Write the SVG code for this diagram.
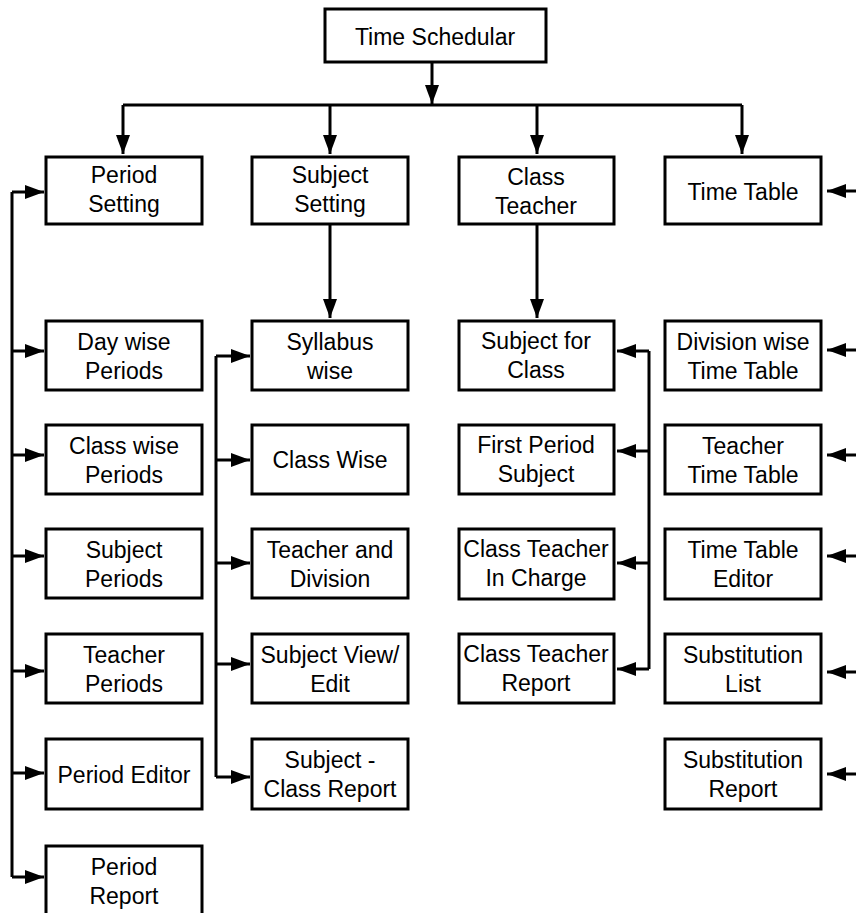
<svg xmlns="http://www.w3.org/2000/svg" width="856" height="913" viewBox="0 0 856 913">
<style>
.box{fill:#fff;stroke:#000;stroke-width:3}
.t{font-family:"Liberation Sans",Arial,sans-serif;font-size:23px;text-anchor:middle;fill:#000}
.c{fill:none;stroke:#000;stroke-width:3}
</style>
<defs>
<marker id="ah" markerUnits="userSpaceOnUse" markerWidth="19" markerHeight="14" refX="19" refY="7" orient="auto">
<path d="M0,0 L19,7 L0,14 z" fill="#000"/>
</marker>
</defs>
<rect width="856" height="913" fill="#fff"/>
<g id="connectors">
<path class="c" d="M432,62 V104" marker-end="url(#ah)"/>
<path class="c" d="M123,105 H742"/>
<path class="c" d="M123,105 V154" marker-end="url(#ah)"/>
<path class="c" d="M330,105 V154" marker-end="url(#ah)"/>
<path class="c" d="M537,105 V154" marker-end="url(#ah)"/>
<path class="c" d="M742,105 V154" marker-end="url(#ah)"/>
<path class="c" d="M330,224 V318" marker-end="url(#ah)"/>
<path class="c" d="M537,224 V318" marker-end="url(#ah)"/>
<path class="c" d="M12,877 V192"/>
<path class="c" d="M12,192 H44" marker-end="url(#ah)"/>
<path class="c" d="M12,351 H44" marker-end="url(#ah)"/>
<path class="c" d="M12,455 H44" marker-end="url(#ah)"/>
<path class="c" d="M12,556 H44" marker-end="url(#ah)"/>
<path class="c" d="M12,671 H44" marker-end="url(#ah)"/>
<path class="c" d="M12,773 H44" marker-end="url(#ah)"/>
<path class="c" d="M12,877 H44" marker-end="url(#ah)"/>
<path class="c" d="M216,777 V356"/>
<path class="c" d="M216,356 H250" marker-end="url(#ah)"/>
<path class="c" d="M216,460 H250" marker-end="url(#ah)"/>
<path class="c" d="M216,563 H250" marker-end="url(#ah)"/>
<path class="c" d="M216,664 H250" marker-end="url(#ah)"/>
<path class="c" d="M216,777 H250" marker-end="url(#ah)"/>
<path class="c" d="M649,351 V669"/>
<path class="c" d="M649,351 H617" marker-end="url(#ah)"/>
<path class="c" d="M649,451 H617" marker-end="url(#ah)"/>
<path class="c" d="M649,563 H617" marker-end="url(#ah)"/>
<path class="c" d="M649,669 H617" marker-end="url(#ah)"/>
<path class="c" d="M856,191 H827" marker-end="url(#ah)"/>
<path class="c" d="M856,350 H827" marker-end="url(#ah)"/>
<path class="c" d="M856,455 H827" marker-end="url(#ah)"/>
<path class="c" d="M856,556 H827" marker-end="url(#ah)"/>
<path class="c" d="M856,672 H827" marker-end="url(#ah)"/>
<path class="c" d="M856,774 H827" marker-end="url(#ah)"/>
</g>
<g id="root"><rect class="box" x="325" y="9" width="221" height="53"/><text class="t" x="435" y="45">Time Schedular</text></g>
<g id="period-setting"><rect class="box" x="46" y="157" width="156" height="67"/><text class="t" x="124" y="183">Period</text><text class="t" x="124" y="212">Setting</text></g>
<g id="subject-setting"><rect class="box" x="252" y="157" width="156" height="67"/><text class="t" x="330" y="183">Subject</text><text class="t" x="330" y="212">Setting</text></g>
<g id="class-teacher"><rect class="box" x="459" y="157" width="155" height="67"/><text class="t" x="536" y="185">Class</text><text class="t" x="536" y="214">Teacher</text></g>
<g id="time-table"><rect class="box" x="665" y="157" width="156" height="67"/><text class="t" x="743" y="200">Time Table</text></g>

<g id="day-wise-periods"><rect class="box" x="46" y="321" width="156" height="69"/><text class="t" x="124" y="350">Day wise</text><text class="t" x="124" y="379">Periods</text></g>
<g id="class-wise-periods"><rect class="box" x="46" y="425" width="156" height="69"/><text class="t" x="124" y="454">Class wise</text><text class="t" x="124" y="483">Periods</text></g>
<g id="subject-periods"><rect class="box" x="46" y="529" width="156" height="69"/><text class="t" x="124" y="558">Subject</text><text class="t" x="124" y="587">Periods</text></g>
<g id="teacher-periods"><rect class="box" x="46" y="634" width="156" height="69"/><text class="t" x="124" y="663">Teacher</text><text class="t" x="124" y="692">Periods</text></g>
<g id="period-editor"><rect class="box" x="46" y="739" width="156" height="70"/><text class="t" x="124" y="783">Period Editor</text></g>
<g id="period-report"><rect class="box" x="46" y="846" width="156" height="70"/><text class="t" x="124" y="875">Period</text><text class="t" x="124" y="904">Report</text></g>

<g id="syllabus-wise"><rect class="box" x="252" y="321" width="156" height="69"/><text class="t" x="330" y="350">Syllabus</text><text class="t" x="330" y="379">wise</text></g>
<g id="class-wise"><rect class="box" x="252" y="425" width="156" height="69"/><text class="t" x="330" y="468">Class Wise</text></g>
<g id="teacher-and-division"><rect class="box" x="252" y="529" width="156" height="69"/><text class="t" x="330" y="558">Teacher and</text><text class="t" x="330" y="587">Division</text></g>
<g id="subject-view-edit"><rect class="box" x="252" y="634" width="156" height="69"/><text class="t" x="330" y="663">Subject View/</text><text class="t" x="330" y="692">Edit</text></g>
<g id="subject-class-report"><rect class="box" x="252" y="739" width="156" height="70"/><text class="t" x="330" y="768">Subject -</text><text class="t" x="330" y="797">Class Report</text></g>

<g id="subject-for-class"><rect class="box" x="459" y="321" width="155" height="69"/><text class="t" x="536" y="349">Subject for</text><text class="t" x="536" y="378">Class</text></g>
<g id="first-period-subject"><rect class="box" x="459" y="425" width="155" height="69"/><text class="t" x="536" y="453">First Period</text><text class="t" x="536" y="482">Subject</text></g>
<g id="class-teacher-in-charge"><rect class="box" x="459" y="529" width="155" height="70"/><text class="t" x="536" y="557">Class Teacher</text><text class="t" x="536" y="586">In Charge</text></g>
<g id="class-teacher-report"><rect class="box" x="459" y="634" width="155" height="69"/><text class="t" x="536" y="662">Class Teacher</text><text class="t" x="536" y="691">Report</text></g>

<g id="division-wise-time-table"><rect class="box" x="665" y="321" width="156" height="69"/><text class="t" x="743" y="350">Division wise</text><text class="t" x="743" y="379">Time Table</text></g>
<g id="teacher-time-table"><rect class="box" x="665" y="425" width="156" height="69"/><text class="t" x="743" y="454">Teacher</text><text class="t" x="743" y="483">Time Table</text></g>
<g id="time-table-editor"><rect class="box" x="665" y="529" width="156" height="70"/><text class="t" x="743" y="558">Time Table</text><text class="t" x="743" y="587">Editor</text></g>
<g id="substitution-list"><rect class="box" x="665" y="634" width="156" height="69"/><text class="t" x="743" y="663">Substitution</text><text class="t" x="743" y="692">List</text></g>
<g id="substitution-report"><rect class="box" x="665" y="739" width="156" height="70"/><text class="t" x="743" y="768">Substitution</text><text class="t" x="743" y="797">Report</text></g>
</svg>
